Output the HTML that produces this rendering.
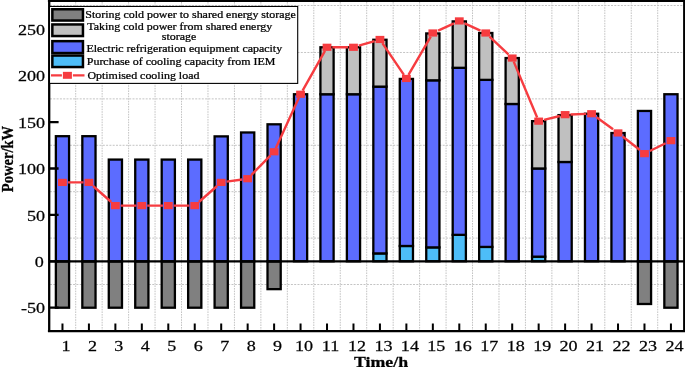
<!DOCTYPE html><html><head><meta charset="utf-8"><style>html,body{margin:0;padding:0;background:#fff;width:685px;height:367px;overflow:hidden}svg{display:block}text{font-family:"Liberation Serif",serif;fill:#000}.t{opacity:0.999}.t text{stroke:#000;stroke-width:0.25}</style></head><body>
<svg width="685" height="367" viewBox="0 0 685 367">
<rect width="685" height="367" fill="#fff"/>
<path d="M75.70 2V330 M102.15 2V330 M128.61 2V330 M155.06 2V330 M181.52 2V330 M207.97 2V330 M234.43 2V330 M260.88 2V330 M287.34 2V330 M313.79 2V330 M340.25 2V330 M366.70 2V330 M393.16 2V330 M419.61 2V330 M446.07 2V330 M472.52 2V330 M498.98 2V330 M525.43 2V330 M551.89 2V330 M578.34 2V330 M604.80 2V330 M631.25 2V330 M657.71 2V330" stroke="#c4c4c4" stroke-width="1" stroke-dasharray="1.6 1.0" fill="none"/>
<path d="M50 284.50H683 M50 238.10H683 M50 191.69H683 M50 145.29H683 M50 98.88H683 M50 52.48H683 M50 5.50H683" stroke="#c4c4c4" stroke-width="1" stroke-dasharray="2 1.3" fill="none"/>
<rect x="55.87" y="261.30" width="13.2" height="46.41" fill="#808080" stroke="#000" stroke-width="2.3"/>
<rect x="55.87" y="136.19" width="13.2" height="125.11" fill="#5C6CFF" stroke="#000" stroke-width="2.3"/>
<rect x="82.33" y="261.30" width="13.2" height="46.41" fill="#808080" stroke="#000" stroke-width="2.3"/>
<rect x="82.33" y="136.19" width="13.2" height="125.11" fill="#5C6CFF" stroke="#000" stroke-width="2.3"/>
<rect x="108.78" y="261.30" width="13.2" height="46.41" fill="#808080" stroke="#000" stroke-width="2.3"/>
<rect x="108.78" y="159.58" width="13.2" height="101.72" fill="#5C6CFF" stroke="#000" stroke-width="2.3"/>
<rect x="135.23" y="261.30" width="13.2" height="46.41" fill="#808080" stroke="#000" stroke-width="2.3"/>
<rect x="135.23" y="159.58" width="13.2" height="101.72" fill="#5C6CFF" stroke="#000" stroke-width="2.3"/>
<rect x="161.69" y="261.30" width="13.2" height="46.41" fill="#808080" stroke="#000" stroke-width="2.3"/>
<rect x="161.69" y="159.58" width="13.2" height="101.72" fill="#5C6CFF" stroke="#000" stroke-width="2.3"/>
<rect x="188.14" y="261.30" width="13.2" height="46.41" fill="#808080" stroke="#000" stroke-width="2.3"/>
<rect x="188.14" y="159.58" width="13.2" height="101.72" fill="#5C6CFF" stroke="#000" stroke-width="2.3"/>
<rect x="214.60" y="261.30" width="13.2" height="46.41" fill="#808080" stroke="#000" stroke-width="2.3"/>
<rect x="214.60" y="136.38" width="13.2" height="124.92" fill="#5C6CFF" stroke="#000" stroke-width="2.3"/>
<rect x="241.06" y="261.30" width="13.2" height="46.41" fill="#808080" stroke="#000" stroke-width="2.3"/>
<rect x="241.06" y="132.48" width="13.2" height="128.82" fill="#5C6CFF" stroke="#000" stroke-width="2.3"/>
<rect x="267.51" y="261.30" width="13.2" height="27.84" fill="#808080" stroke="#000" stroke-width="2.3"/>
<rect x="267.51" y="124.31" width="13.2" height="136.99" fill="#5C6CFF" stroke="#000" stroke-width="2.3"/>
<rect x="293.96" y="94.24" width="13.2" height="167.06" fill="#5C6CFF" stroke="#000" stroke-width="2.3"/>
<rect x="320.42" y="94.24" width="13.2" height="167.06" fill="#5C6CFF" stroke="#000" stroke-width="2.3"/>
<rect x="320.42" y="47.28" width="13.2" height="46.96" fill="#C0C0C0" stroke="#000" stroke-width="2.3"/>
<rect x="346.88" y="94.24" width="13.2" height="167.06" fill="#5C6CFF" stroke="#000" stroke-width="2.3"/>
<rect x="346.88" y="47.28" width="13.2" height="46.96" fill="#C0C0C0" stroke="#000" stroke-width="2.3"/>
<rect x="373.33" y="253.41" width="13.2" height="7.89" fill="#4DBDF8" stroke="#000" stroke-width="2.3"/>
<rect x="373.33" y="86.63" width="13.2" height="166.78" fill="#5C6CFF" stroke="#000" stroke-width="2.3"/>
<rect x="373.33" y="39.76" width="13.2" height="46.87" fill="#C0C0C0" stroke="#000" stroke-width="2.3"/>
<rect x="399.78" y="245.99" width="13.2" height="15.31" fill="#4DBDF8" stroke="#000" stroke-width="2.3"/>
<rect x="399.78" y="78.93" width="13.2" height="167.06" fill="#5C6CFF" stroke="#000" stroke-width="2.3"/>
<rect x="426.24" y="247.38" width="13.2" height="13.92" fill="#4DBDF8" stroke="#000" stroke-width="2.3"/>
<rect x="426.24" y="80.32" width="13.2" height="167.06" fill="#5C6CFF" stroke="#000" stroke-width="2.3"/>
<rect x="426.24" y="33.45" width="13.2" height="46.87" fill="#C0C0C0" stroke="#000" stroke-width="2.3"/>
<rect x="452.69" y="234.85" width="13.2" height="26.45" fill="#4DBDF8" stroke="#000" stroke-width="2.3"/>
<rect x="452.69" y="67.79" width="13.2" height="167.06" fill="#5C6CFF" stroke="#000" stroke-width="2.3"/>
<rect x="452.69" y="21.39" width="13.2" height="46.41" fill="#C0C0C0" stroke="#000" stroke-width="2.3"/>
<rect x="479.15" y="246.91" width="13.2" height="14.39" fill="#4DBDF8" stroke="#000" stroke-width="2.3"/>
<rect x="479.15" y="79.86" width="13.2" height="167.06" fill="#5C6CFF" stroke="#000" stroke-width="2.3"/>
<rect x="479.15" y="32.99" width="13.2" height="46.87" fill="#C0C0C0" stroke="#000" stroke-width="2.3"/>
<rect x="505.60" y="103.99" width="13.2" height="157.31" fill="#5C6CFF" stroke="#000" stroke-width="2.3"/>
<rect x="505.60" y="58.05" width="13.2" height="45.94" fill="#C0C0C0" stroke="#000" stroke-width="2.3"/>
<rect x="532.06" y="256.66" width="13.2" height="4.64" fill="#4DBDF8" stroke="#000" stroke-width="2.3"/>
<rect x="532.06" y="168.49" width="13.2" height="88.17" fill="#5C6CFF" stroke="#000" stroke-width="2.3"/>
<rect x="532.06" y="121.16" width="13.2" height="47.33" fill="#C0C0C0" stroke="#000" stroke-width="2.3"/>
<rect x="558.51" y="161.99" width="13.2" height="99.31" fill="#5C6CFF" stroke="#000" stroke-width="2.3"/>
<rect x="558.51" y="115.12" width="13.2" height="46.87" fill="#C0C0C0" stroke="#000" stroke-width="2.3"/>
<rect x="584.97" y="113.73" width="13.2" height="147.57" fill="#5C6CFF" stroke="#000" stroke-width="2.3"/>
<rect x="611.42" y="133.04" width="13.2" height="128.26" fill="#5C6CFF" stroke="#000" stroke-width="2.3"/>
<rect x="637.88" y="261.30" width="13.2" height="42.69" fill="#808080" stroke="#000" stroke-width="2.3"/>
<rect x="637.88" y="110.95" width="13.2" height="150.35" fill="#5C6CFF" stroke="#000" stroke-width="2.3"/>
<rect x="664.33" y="261.30" width="13.2" height="46.41" fill="#808080" stroke="#000" stroke-width="2.3"/>
<rect x="664.33" y="94.24" width="13.2" height="167.06" fill="#5C6CFF" stroke="#000" stroke-width="2.3"/>
<path d="M49 261.30H684" stroke="#000" stroke-width="2.2"/>
<path d="M67.77 182.41L83.62 182.41 M93.03 186.01L111.28 202.01 M120.68 205.61L136.53 205.61 M147.13 205.61L162.99 205.61 M173.59 205.61L189.44 205.61 M198.85 202.01L217.10 186.01 M226.50 181.67L242.35 179.44 M251.19 175.10L270.57 155.38 M275.77 148.18L298.91 97.84 M302.59 90.64L324.99 50.88 M332.32 47.28L348.18 47.28 M358.78 45.72L374.63 41.05 M382.37 43.08L403.94 74.86 M408.48 74.86L430.75 36.59 M438.14 30.57L453.99 23.34 M464.59 23.34L480.45 30.57 M489.55 36.59L508.40 54.45 M513.71 61.65L537.15 117.56 M543.96 119.86L559.82 115.96 M570.41 114.47L586.27 113.92 M596.53 117.33L613.07 129.34 M622.63 136.54L639.88 150.04 M649.78 151.04L665.63 143.25" fill="none" stroke="#F63C40" stroke-width="2.4"/>
<rect x="58.07" y="178.81" width="8.8" height="7.2" fill="#F63C40"/>
<rect x="84.52" y="178.81" width="8.8" height="7.2" fill="#F63C40"/>
<rect x="110.98" y="202.01" width="8.8" height="7.2" fill="#F63C40"/>
<rect x="137.43" y="202.01" width="8.8" height="7.2" fill="#F63C40"/>
<rect x="163.89" y="202.01" width="8.8" height="7.2" fill="#F63C40"/>
<rect x="190.34" y="202.01" width="8.8" height="7.2" fill="#F63C40"/>
<rect x="216.80" y="178.81" width="8.8" height="7.2" fill="#F63C40"/>
<rect x="243.25" y="175.10" width="8.8" height="7.2" fill="#F63C40"/>
<rect x="269.71" y="148.18" width="8.8" height="7.2" fill="#F63C40"/>
<rect x="296.16" y="90.64" width="8.8" height="7.2" fill="#F63C40"/>
<rect x="322.62" y="43.68" width="8.8" height="7.2" fill="#F63C40"/>
<rect x="349.08" y="43.68" width="8.8" height="7.2" fill="#F63C40"/>
<rect x="375.53" y="35.88" width="8.8" height="7.2" fill="#F63C40"/>
<rect x="401.99" y="74.86" width="8.8" height="7.2" fill="#F63C40"/>
<rect x="428.44" y="29.39" width="8.8" height="7.2" fill="#F63C40"/>
<rect x="454.89" y="17.32" width="8.8" height="7.2" fill="#F63C40"/>
<rect x="481.35" y="29.39" width="8.8" height="7.2" fill="#F63C40"/>
<rect x="507.80" y="54.45" width="8.8" height="7.2" fill="#F63C40"/>
<rect x="534.26" y="117.56" width="8.8" height="7.2" fill="#F63C40"/>
<rect x="560.72" y="111.06" width="8.8" height="7.2" fill="#F63C40"/>
<rect x="587.17" y="110.13" width="8.8" height="7.2" fill="#F63C40"/>
<rect x="613.62" y="129.34" width="8.8" height="7.2" fill="#F63C40"/>
<rect x="640.08" y="150.04" width="8.8" height="7.2" fill="#F63C40"/>
<rect x="666.53" y="137.05" width="8.8" height="7.2" fill="#F63C40"/>
<path d="M49.2 0V332" stroke="#000" stroke-width="2.3" fill="none"/>
<path d="M47.9 331.2H685" stroke="#000" stroke-width="2.3" fill="none"/>
<path d="M684.1 0V332" stroke="#000" stroke-width="2" fill="none"/>
<path d="M47.9 0.9H685" stroke="#000" stroke-width="2.0" fill="none"/>
<path d="M62.47 330.5V323.4 M88.92 330.5V323.4 M115.38 330.5V323.4 M141.83 330.5V323.4 M168.29 330.5V323.4 M194.74 330.5V323.4 M221.20 330.5V323.4 M247.66 330.5V323.4 M274.11 330.5V323.4 M300.56 330.5V323.4 M327.02 330.5V323.4 M353.48 330.5V323.4 M379.93 330.5V323.4 M406.38 330.5V323.4 M432.84 330.5V323.4 M459.29 330.5V323.4 M485.75 330.5V323.4 M512.20 330.5V323.4 M538.66 330.5V323.4 M565.12 330.5V323.4 M591.57 330.5V323.4 M618.02 330.5V323.4 M644.48 330.5V323.4 M670.93 330.5V323.4" stroke="#000" stroke-width="2" fill="none"/>
<path d="M49 307.71H58.6 M49 261.30H58.6 M49 214.90H58.6 M49 168.49H58.6 M49 122.09H58.6 M49 75.68H58.6 M49 29.28H58.6" stroke="#000" stroke-width="2.3" fill="none"/>
<rect x="49.5" y="6.45" width="248.2" height="76.95" fill="#fff" stroke="#000" stroke-width="1.1"/>
<rect x="52.35" y="9.25" width="30.6" height="11.30" fill="#808080" stroke="#000" stroke-width="2.5"/>
<rect x="52.35" y="24.45" width="30.6" height="11.60" fill="#C0C0C0" stroke="#000" stroke-width="2.5"/>
<rect x="52.35" y="41.15" width="30.6" height="11.90" fill="#5C6CFF" stroke="#000" stroke-width="2.5"/>
<rect x="52.35" y="55.55" width="30.6" height="11.50" fill="#4DBDF8" stroke="#000" stroke-width="2.5"/>
<path d="M51 75.35H61.9M72.9 75.35H84.5" stroke="#F63C40" stroke-width="2.3"/>
<rect x="62.9" y="71.85" width="9" height="6.95" fill="#F63C40"/>
<g class="t">
<text transform="translate(65.97 351) scale(1.19 1)" text-anchor="middle" font-size="15.2">1</text>
<text transform="translate(92.42 351) scale(1.19 1)" text-anchor="middle" font-size="15.2">2</text>
<text transform="translate(118.88 351) scale(1.19 1)" text-anchor="middle" font-size="15.2">3</text>
<text transform="translate(145.33 351) scale(1.19 1)" text-anchor="middle" font-size="15.2">4</text>
<text transform="translate(171.79 351) scale(1.19 1)" text-anchor="middle" font-size="15.2">5</text>
<text transform="translate(198.24 351) scale(1.19 1)" text-anchor="middle" font-size="15.2">6</text>
<text transform="translate(224.70 351) scale(1.19 1)" text-anchor="middle" font-size="15.2">7</text>
<text transform="translate(251.16 351) scale(1.19 1)" text-anchor="middle" font-size="15.2">8</text>
<text transform="translate(277.61 351) scale(1.19 1)" text-anchor="middle" font-size="15.2">9</text>
<text transform="translate(304.06 351) scale(1.19 1)" text-anchor="middle" font-size="15.2">10</text>
<text transform="translate(330.52 351) scale(1.19 1)" text-anchor="middle" font-size="15.2">11</text>
<text transform="translate(356.98 351) scale(1.19 1)" text-anchor="middle" font-size="15.2">12</text>
<text transform="translate(383.43 351) scale(1.19 1)" text-anchor="middle" font-size="15.2">13</text>
<text transform="translate(409.88 351) scale(1.19 1)" text-anchor="middle" font-size="15.2">14</text>
<text transform="translate(436.34 351) scale(1.19 1)" text-anchor="middle" font-size="15.2">15</text>
<text transform="translate(462.79 351) scale(1.19 1)" text-anchor="middle" font-size="15.2">16</text>
<text transform="translate(489.25 351) scale(1.19 1)" text-anchor="middle" font-size="15.2">17</text>
<text transform="translate(515.70 351) scale(1.19 1)" text-anchor="middle" font-size="15.2">18</text>
<text transform="translate(542.16 351) scale(1.19 1)" text-anchor="middle" font-size="15.2">19</text>
<text transform="translate(568.62 351) scale(1.19 1)" text-anchor="middle" font-size="15.2">20</text>
<text transform="translate(595.07 351) scale(1.19 1)" text-anchor="middle" font-size="15.2">21</text>
<text transform="translate(621.52 351) scale(1.19 1)" text-anchor="middle" font-size="15.2">22</text>
<text transform="translate(647.98 351) scale(1.19 1)" text-anchor="middle" font-size="15.2">23</text>
<text transform="translate(674.43 351) scale(1.19 1)" text-anchor="middle" font-size="15.2">24</text>
<text transform="translate(45.0 313.41) scale(1.19 1)" text-anchor="end" font-size="15.2">-50</text>
<text transform="translate(43.8 267.00) scale(1.19 1)" text-anchor="end" font-size="15.2">0</text>
<text transform="translate(45.0 220.59) scale(1.19 1)" text-anchor="end" font-size="15.2">50</text>
<text transform="translate(45.0 174.19) scale(1.19 1)" text-anchor="end" font-size="15.2">100</text>
<text transform="translate(45.0 127.79) scale(1.19 1)" text-anchor="end" font-size="15.2">150</text>
<text transform="translate(45.0 81.38) scale(1.19 1)" text-anchor="end" font-size="15.2">200</text>
<text transform="translate(45.0 34.98) scale(1.19 1)" text-anchor="end" font-size="15.2">250</text>
<text transform="translate(381 366.5) scale(1.19 1)" text-anchor="middle" font-size="15" font-weight="bold">Time/h</text>
<text transform="translate(12.6 159.0) scale(1.19 1) rotate(-90)" text-anchor="middle" font-size="14.6" font-weight="bold">Power/kW</text>
<text transform="translate(85.3 18.2) scale(1.195 1)" font-size="10">Storing cold power to shared energy storage</text>
<text transform="translate(87.3 29.9) scale(1.195 1)" font-size="10">Taking cold power from shared energy</text>
<text transform="translate(161.8 40.3) scale(1.195 1)" font-size="10">storage</text>
<text transform="translate(86.4 51.7) scale(1.195 1)" font-size="10">Electric refrigeration equipment capacity</text>
<text transform="translate(86.8 64.9) scale(1.195 1)" font-size="10">Purchase of cooling capacity from IEM</text>
<text transform="translate(87.4 78.6) scale(1.195 1)" font-size="10">Optimised cooling load</text>
</g>
</svg></body></html>
